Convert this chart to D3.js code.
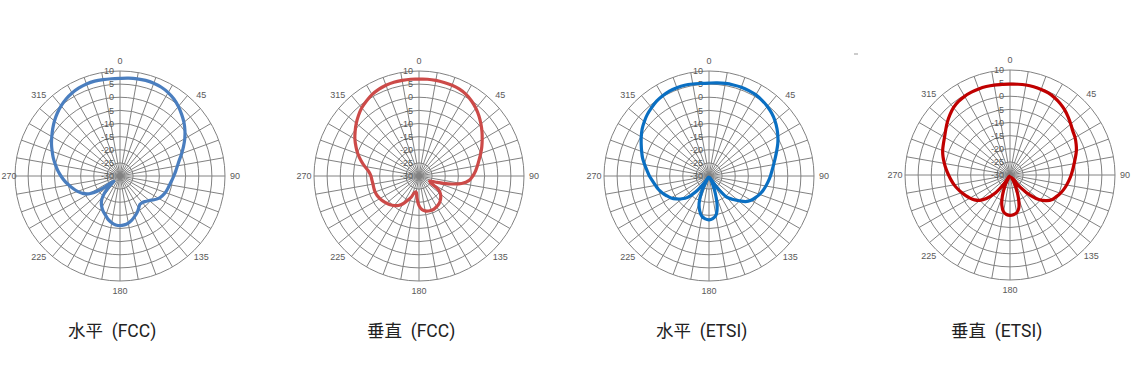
<!DOCTYPE html>
<html>
<head>
<meta charset="utf-8">
<script src="https://cdn.jsdelivr.net/npm/d3@7"></script>
<style>
  body { margin: 0; background: #fff; }
  svg { display: block; }
</style>
</head>
<body>
<script>
//pattern angles in degrees, every 5 deg
var angles = d3.range(0, 360, 5);

//gain values in dB
var hFCC = [7.2, 7.4, 7.6, 7.7, 7.6, 7.3, 6.7, 5.8, 4.6, 3.2, 1.8, 0.2,
    -1.5, -3.3, -5, -6.6, -7.8, -8.7, -9.5, -10.2, -10.8, -11.2, -11.6, -12.2,
    -13, -14.2, -15.5, -16.3, -16.8, -16.8, -15.8, -14.6, -13.6, -12.6, -11.8, -11.3,
    -11.1, -11.3, -11.9, -12.8, -14, -15, -16.2, -17.6, -19.8, -23.5, -27, -21,
    -16.5, -14.3, -12.8, -11.5, -10.2, -8.8, -7.5, -6.2, -5, -3.7, -2.5, -1.2,
    0, 1.3, 2.6, 3.8, 4.9, 5.8, 6.5, 7, 7.3, 7.4, 7.3, 7.2];

var vFCC = [6.9, 7, 7, 6.9, 6.8, 6.5, 5.9, 4.9, 3.7, 2.3, 0.8, -0.7,
    -2.2, -3.6, -5, -6.3, -7.4, -8.4, -9.5, -10.8, -13.5, -18.5, -23, -25.5,
    -25, -21, -19.3, -18.3, -17.5, -16.9, -16.5, -16.2, -16.1, -16.2, -16.5, -17.2,
    -18.7, -21.5, -23.8, -23.5, -21.5, -19.8, -17.8, -16.3, -15.3, -14.5, -13.9, -13.3,
    -12.8, -12.4, -12.2, -12.2, -12.2, -12, -11.7, -10.8, -9, -7.1, -5.2, -3.5,
    -1.8, -0.3, 1.2, 2.6, 3.9, 4.9, 5.8, 6.4, 6.8, 7, 7, 7];

var hETSI = [5.4, 5.6, 5.8, 5.9, 6, 5.9, 5.7, 5.2, 4.6, 3.8, 2.8, 1.6,
    0.3, -1.1, -2.6, -3.9, -5, -5.9, -6.6, -7.3, -8, -8.7, -9.5, -10.5,
    -11.5, -13, -15.5, -17.5, -19.5, -24.5, -29.5, -27, -23, -18, -14.8, -13.7,
    -13.3, -13.6, -14.4, -16.3, -19, -23.5, -29.5, -27, -22, -18.5, -16.5, -14.8,
    -13.3, -12.2, -11.1, -10.1, -9.3, -8.4, -7.3, -6.3, -5.1, -3.8, -2.7, -1.5,
    -0.2, 1.1, 2.2, 3.2, 4, 4.8, 5.3, 5.7, 5.8, 5.8, 5.6, 5.4];

var vETSI = [4.6, 4.7, 4.8, 4.8, 4.7, 4.5, 4, 3.3, 2.4, 1.3, 0.2, -0.8,
    -1.4, -2.2, -3.1, -4.2, -5.2, -6, -6.7, -7.4, -8.1, -8.8, -9.6, -10.5,
    -11.4, -13, -15.3, -19, -24, -29, -27.5, -24.5, -20.5, -17, -15.4, -14.8,
    -14.6, -14.9, -15.8, -18, -21.5, -25.5, -29.5, -25.5, -20.5, -17.3, -15, -13.5,
    -12.4, -11.4, -10.4, -9.4, -8.4, -7.5, -6.6, -5.6, -4.6, -3.6, -2.7, -2,
    -1.2, -0.1, 1.2, 2.4, 3.5, 4.2, 4.6, 4.8, 4.9, 4.9, 4.8, 4.6];

//axis labels
var radialTicks = [10, 5, 0, -5, -10, -15, -20, -25, -30];
var angleLabels = [0, 45, 90, 135, 180, 225, 270, 315];
var titles = ["水平 (FCC)", "垂直 (FCC)", "水平 (ETSI)", "垂直 (ETSI)"];

var charts = [
    {values: hFCC, color: "#4a7ebf", cx: 120, cy: 176, tx: 68},
    {values: vFCC, color: "#cc4a48", cx: 419, cy: 176, tx: 367},
    {values: hETSI, color: "#0a6fc2", cx: 709, cy: 176, tx: 656},
    {values: vETSI, color: "#c00000", cx: 1010, cy: 175, tx: 951}
];

var width = 1138,
    height = 378,
    R = 105;

var svg = d3.select("body")
    .append("svg")
    .attr("width", width)
    .attr("height", height);

var r = d3.scaleLinear()
    .domain([-30, 10])
    .range([0, R]);

var line = d3.lineRadial()
    .angle(function(d){ return d[0] * Math.PI / 180; })
    .radius(function(d){ return r(Math.max(-30, d[1])); })
    .curve(d3.curveCatmullRomClosed.alpha(0.5));

charts.forEach(function(c, i){
    var g = svg.append("g")
        .attr("transform", "translate(" + c.cx + "," + c.cy + ")");

    //rings
    g.selectAll(".ring")
        .data(radialTicks.filter(function(v){ return v > -30; }))
        .enter()
        .append("circle")
        .attr("r", function(v){ return r(v); })
        .attr("fill", "none")
        .attr("stroke", "#828282")
        .attr("stroke-width", 1);

    //spokes every 10 degrees
    g.selectAll(".spoke")
        .data(d3.range(0, 360, 10))
        .enter()
        .append("line")
        .attr("x1", 0)
        .attr("y1", 0)
        .attr("x2", function(a){ return R * Math.sin(a * Math.PI / 180); })
        .attr("y2", function(a){ return -R * Math.cos(a * Math.PI / 180); })
        .attr("stroke", "#828282")
        .attr("stroke-width", 1);

    //radial tick labels along 0 deg
    g.selectAll(".rtick")
        .data(radialTicks)
        .enter()
        .append("text")
        .attr("x", -6)
        .attr("y", function(v){ return -r(v); })
        .attr("dy", "0.35em")
        .attr("text-anchor", "end")
        .attr("font-family", "Liberation Sans, Arial, sans-serif")
        .attr("font-size", 9)
        .attr("fill", "#595959")
        .text(function(v){ return v; });

    //angle labels, kept inside the page at the left edge
    g.selectAll(".alabel")
        .data(angleLabels)
        .enter()
        .append("text")
        .attr("x", function(a){
            var x = (R + 10) * Math.sin(a * Math.PI / 180);
            return Math.max(x, 9 - c.cx);
        })
        .attr("y", function(a){ return -(R + 10) * Math.cos(a * Math.PI / 180); })
        .attr("dy", "0.35em")
        .attr("text-anchor", "middle")
        .attr("font-family", "Liberation Sans, Arial, sans-serif")
        .attr("font-size", 9)
        .attr("fill", "#595959")
        .text(function(a){ return a; });

    //pattern
    g.append("path")
        .datum(angles.map(function(a, j){ return [a, c.values[j]]; }))
        .attr("d", line)
        .attr("fill", "none")
        .attr("stroke", c.color)
        .attr("stroke-width", 3.2)
        .attr("stroke-linejoin", "round");

    //title
    svg.append("text")
        .attr("x", c.tx)
        .attr("y", 337)
        .attr("font-family", "Roboto, 'Noto Sans CJK SC', sans-serif")
        .attr("font-size", 17.5)
        .attr("fill", "#222")
        .attr("xml:space", "preserve")
        .text(titles[i].replace(" ", "  "));
});

//small stray mark seen in the source image
svg.append("line")
    .attr("x1", 854).attr("x2", 858)
    .attr("y1", 54).attr("y2", 54)
    .attr("stroke", "#999");
</script>
</body>
</html>
